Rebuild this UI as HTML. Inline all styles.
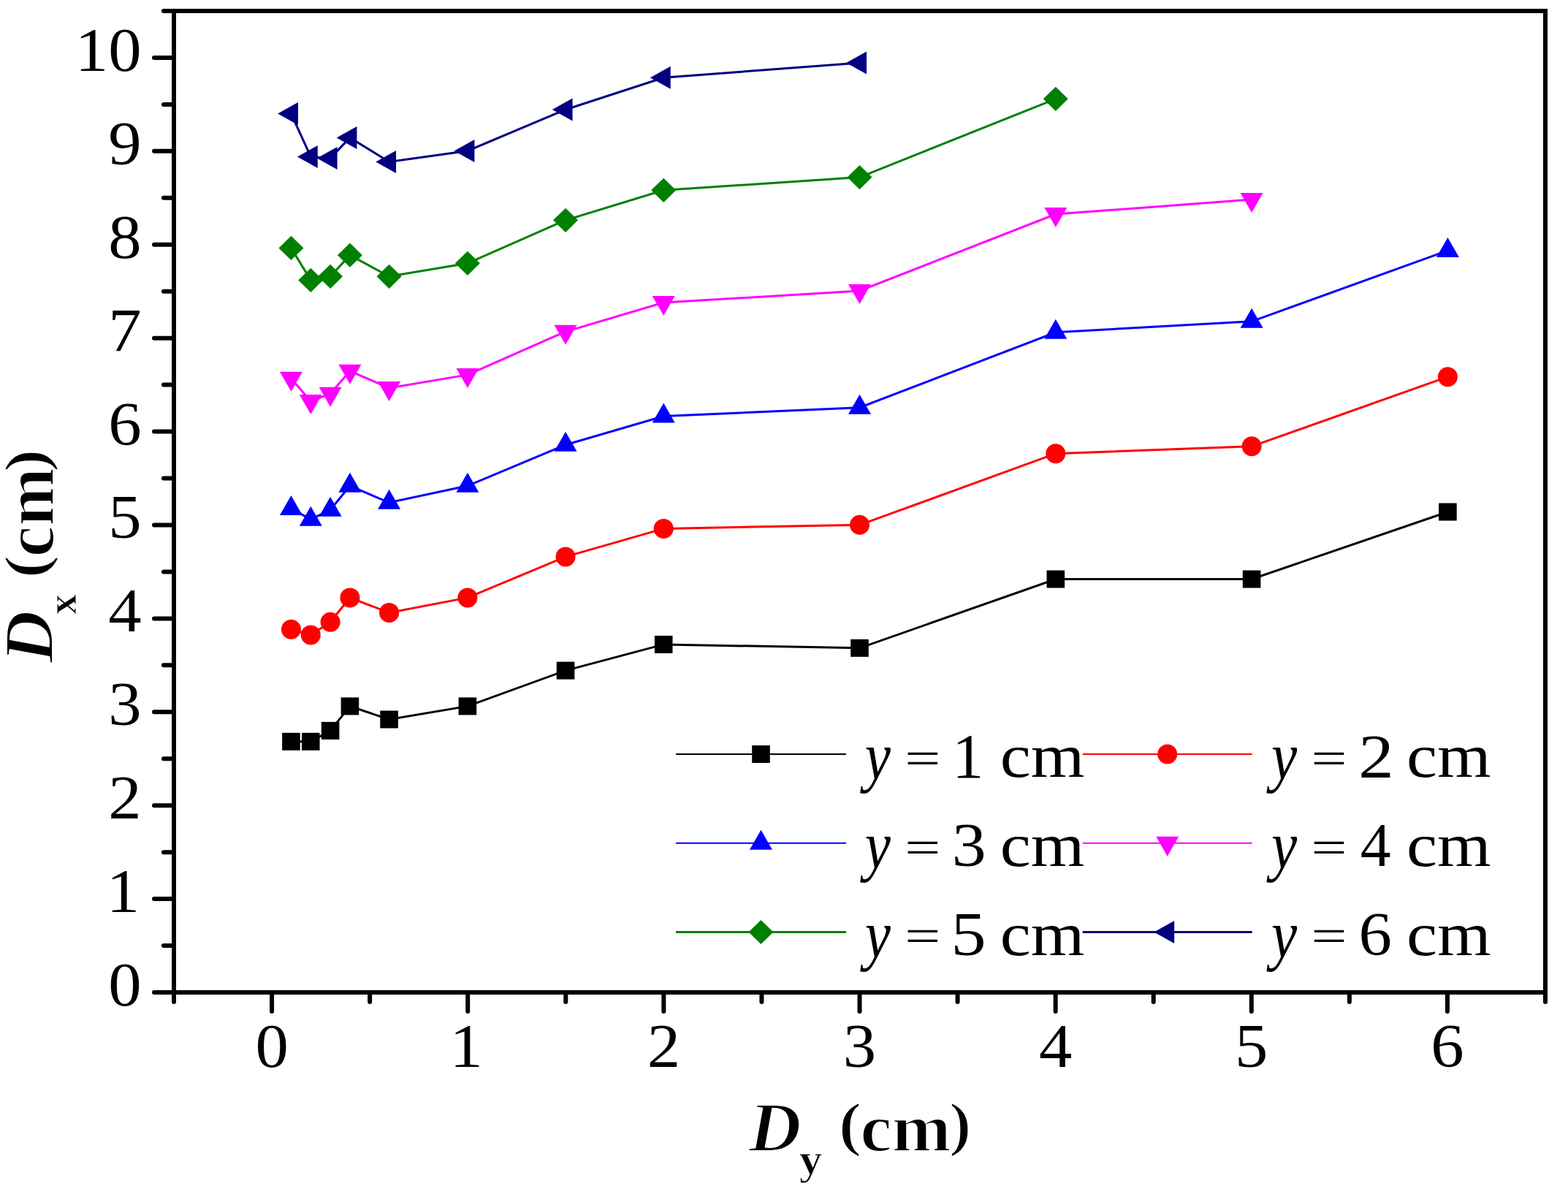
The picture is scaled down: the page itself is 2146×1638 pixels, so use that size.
<!DOCTYPE html>
<html><head><meta charset="utf-8"><title>Dx vs Dy</title>
<style>html,body{margin:0;padding:0;background:#fff;overflow:hidden}svg{display:block}</style>
</head><body>
<svg width="2146" height="1638" viewBox="0 0 2146 1638">
<rect width="2146" height="1638" fill="#fff"/>
<g font-family="'Liberation Serif', 'Times New Roman', serif" fill="#000">
<text transform="translate(193.50,1376.00) scale(1.0800,1)" text-anchor="end" font-size="84" font-style="normal" font-weight="normal">0</text>
<text transform="translate(191.00,1248.10) scale(1.0800,1)" text-anchor="end" font-size="84" font-style="normal" font-weight="normal">1</text>
<text transform="translate(193.50,1120.19) scale(1.0800,1)" text-anchor="end" font-size="84" font-style="normal" font-weight="normal">2</text>
<text transform="translate(193.50,992.29) scale(1.0800,1)" text-anchor="end" font-size="84" font-style="normal" font-weight="normal">3</text>
<text transform="translate(193.50,864.38) scale(1.0800,1)" text-anchor="end" font-size="84" font-style="normal" font-weight="normal">4</text>
<text transform="translate(193.50,736.48) scale(1.0800,1)" text-anchor="end" font-size="84" font-style="normal" font-weight="normal">5</text>
<text transform="translate(193.50,608.57) scale(1.0800,1)" text-anchor="end" font-size="84" font-style="normal" font-weight="normal">6</text>
<text transform="translate(193.50,480.67) scale(1.0800,1)" text-anchor="end" font-size="84" font-style="normal" font-weight="normal">7</text>
<text transform="translate(193.50,352.76) scale(1.0800,1)" text-anchor="end" font-size="84" font-style="normal" font-weight="normal">8</text>
<text transform="translate(193.50,224.86) scale(1.0800,1)" text-anchor="end" font-size="84" font-style="normal" font-weight="normal">9</text>
<text transform="translate(193.50,96.95) scale(1.0800,1)" text-anchor="end" font-size="84" font-style="normal" font-weight="normal">10</text>
<text transform="translate(372.07,1460.00) scale(1.0800,1)" text-anchor="middle" font-size="84" font-style="normal" font-weight="normal">0</text>
<text transform="translate(638.21,1460.00) scale(1.0800,1)" text-anchor="middle" font-size="84" font-style="normal" font-weight="normal">1</text>
<text transform="translate(908.36,1460.00) scale(1.0800,1)" text-anchor="middle" font-size="84" font-style="normal" font-weight="normal">2</text>
<text transform="translate(1176.50,1460.00) scale(1.0800,1)" text-anchor="middle" font-size="84" font-style="normal" font-weight="normal">3</text>
<text transform="translate(1444.64,1460.00) scale(1.0800,1)" text-anchor="middle" font-size="84" font-style="normal" font-weight="normal">4</text>
<text transform="translate(1712.79,1460.00) scale(1.0800,1)" text-anchor="middle" font-size="84" font-style="normal" font-weight="normal">5</text>
<text transform="translate(1980.93,1460.00) scale(1.0800,1)" text-anchor="middle" font-size="84" font-style="normal" font-weight="normal">6</text>
<text transform="translate(1024.89,1575.31) scale(1.0342,1)" font-size="95.74" font-style="italic" font-weight="bold" stroke="#fff" stroke-width="2.0">D</text>
<text transform="translate(1093.67,1606.23) scale(1.0760,1)" font-size="58.67" font-style="normal" font-weight="bold" stroke="#fff" stroke-width="1.0">y</text>
<text transform="translate(1147.49,1566.13) scale(1.1607,1)" font-size="82.47" font-style="normal" font-weight="bold" stroke="#fff" stroke-width="2.0">(</text>
<text transform="translate(1177.19,1574.67) scale(1.0514,1)" font-size="92.71" font-style="normal" font-weight="bold" stroke="#fff" stroke-width="2.0">cm</text>
<text transform="translate(1298.84,1566.13) scale(1.1229,1)" font-size="82.47" font-style="normal" font-weight="bold" stroke="#fff" stroke-width="2.0">)</text>
<g transform="rotate(-90)"><text transform="translate(-907.21,72.11) scale(1.0424,1)" font-size="94.98" font-style="italic" font-weight="bold" stroke="#fff" stroke-width="2.0">D</text><text transform="translate(-841.02,103.70) scale(0.9738,1)" font-size="57.52" font-style="normal" font-weight="bold" stroke="#fff" stroke-width="1.0">x</text><text transform="translate(-791.41,63.32) scale(1.1530,1)" font-size="83.02" font-style="normal" font-weight="bold" stroke="#fff" stroke-width="2.0">(</text><text transform="translate(-762.36,73.13) scale(0.9927,1)" font-size="96.46" font-style="normal" font-weight="bold" stroke="#fff" stroke-width="2.0">cm</text><text transform="translate(-646.16,63.32) scale(1.1530,1)" font-size="83.02" font-style="normal" font-weight="bold" stroke="#fff" stroke-width="2.0">)</text></g>
<line x1="925.0" y1="1032.0" x2="1158.0" y2="1032.0" stroke="#000000" stroke-width="2"/>
<rect x="1029.20" y="1020.00" width="24.6" height="24" fill="#000000"/>
<text transform="translate(1183.77,1066.37) scale(0.8532,1)" font-size="92.74" font-style="italic" font-weight="normal">y</text>
<text transform="translate(1238.26,1059.98) scale(1.3244,1)" font-size="65.60" font-style="normal" font-weight="normal">=</text>
<text transform="translate(1303.33,1063.60) scale(1.0020,1)" font-size="85.91" font-style="normal" font-weight="normal">1</text>
<text transform="translate(1368.80,1063.46) scale(1.1320,1)" font-size="83.58" font-style="normal" font-weight="normal">cm</text>
<line x1="1481.7" y1="1032.0" x2="1713.7" y2="1032.0" stroke="#FF0000" stroke-width="2"/>
<circle cx="1597.70" cy="1032.00" r="13.5" fill="#FF0000"/>
<text transform="translate(1739.97,1066.37) scale(0.8532,1)" font-size="92.74" font-style="italic" font-weight="normal">y</text>
<text transform="translate(1794.46,1059.98) scale(1.3244,1)" font-size="65.60" font-style="normal" font-weight="normal">=</text>
<text transform="translate(1859.14,1063.60) scale(1.1451,1)" font-size="84.50" font-style="normal" font-weight="normal">2</text>
<text transform="translate(1925.00,1063.46) scale(1.1320,1)" font-size="83.58" font-style="normal" font-weight="normal">cm</text>
<line x1="925.0" y1="1153.8" x2="1158.0" y2="1153.8" stroke="#0000FF" stroke-width="2"/>
<path d="M1041.50,1135.80L1057.00,1162.80L1026.00,1162.80Z" fill="#0000FF"/>
<text transform="translate(1183.77,1188.17) scale(0.8532,1)" font-size="92.74" font-style="italic" font-weight="normal">y</text>
<text transform="translate(1238.26,1181.78) scale(1.3244,1)" font-size="65.60" font-style="normal" font-weight="normal">=</text>
<text transform="translate(1302.69,1185.40) scale(1.1118,1)" font-size="84.50" font-style="normal" font-weight="normal">3</text>
<text transform="translate(1368.80,1185.26) scale(1.1320,1)" font-size="83.58" font-style="normal" font-weight="normal">cm</text>
<line x1="1481.7" y1="1153.8" x2="1713.7" y2="1153.8" stroke="#FF00FF" stroke-width="2"/>
<path d="M1597.70,1171.80L1613.20,1144.80L1582.20,1144.80Z" fill="#FF00FF"/>
<text transform="translate(1739.97,1188.17) scale(0.8532,1)" font-size="92.74" font-style="italic" font-weight="normal">y</text>
<text transform="translate(1794.46,1181.78) scale(1.3244,1)" font-size="65.60" font-style="normal" font-weight="normal">=</text>
<text transform="translate(1861.73,1185.40) scale(0.9896,1)" font-size="84.50" font-style="normal" font-weight="normal">4</text>
<text transform="translate(1925.00,1185.26) scale(1.1320,1)" font-size="83.58" font-style="normal" font-weight="normal">cm</text>
<line x1="925.0" y1="1275.5" x2="1158.0" y2="1275.5" stroke="#008000" stroke-width="3"/>
<path d="M1041.50,1258.90L1058.50,1275.50L1041.50,1292.10L1024.50,1275.50Z" fill="#008000"/>
<text transform="translate(1183.77,1309.87) scale(0.8532,1)" font-size="92.74" font-style="italic" font-weight="normal">y</text>
<text transform="translate(1238.26,1303.48) scale(1.3244,1)" font-size="65.60" font-style="normal" font-weight="normal">=</text>
<text transform="translate(1301.62,1307.10) scale(1.1394,1)" font-size="84.50" font-style="normal" font-weight="normal">5</text>
<text transform="translate(1368.80,1306.96) scale(1.1320,1)" font-size="83.58" font-style="normal" font-weight="normal">cm</text>
<line x1="1481.7" y1="1275.5" x2="1713.7" y2="1275.5" stroke="#000080" stroke-width="3"/>
<path d="M1579.40,1275.50L1607.20,1260.00L1607.20,1291.00Z" fill="#000080"/>
<text transform="translate(1739.97,1309.87) scale(0.8532,1)" font-size="92.74" font-style="italic" font-weight="normal">y</text>
<text transform="translate(1794.46,1303.48) scale(1.3244,1)" font-size="65.60" font-style="normal" font-weight="normal">=</text>
<text transform="translate(1859.49,1307.10) scale(1.0753,1)" font-size="84.50" font-style="normal" font-weight="normal">6</text>
<text transform="translate(1925.00,1306.96) scale(1.1320,1)" font-size="83.58" font-style="normal" font-weight="normal">cm</text>
</g>
<polyline points="398.43,1014.80 425.26,1014.80 452.09,999.90 478.92,966.40 532.58,984.50 639.90,966.40 774.05,917.60 908.20,881.90 1176.50,886.80 1444.80,792.50 1713.10,792.50 1981.40,700.50" fill="none" stroke="#000000" stroke-width="3" stroke-linejoin="miter"/>
<rect x="386.13" y="1002.80" width="24.6" height="24" fill="#000000"/>
<rect x="412.96" y="1002.80" width="24.6" height="24" fill="#000000"/>
<rect x="439.79" y="987.90" width="24.6" height="24" fill="#000000"/>
<rect x="466.62" y="954.40" width="24.6" height="24" fill="#000000"/>
<rect x="520.28" y="972.50" width="24.6" height="24" fill="#000000"/>
<rect x="627.60" y="954.40" width="24.6" height="24" fill="#000000"/>
<rect x="761.75" y="905.60" width="24.6" height="24" fill="#000000"/>
<rect x="895.90" y="869.90" width="24.6" height="24" fill="#000000"/>
<rect x="1164.20" y="874.80" width="24.6" height="24" fill="#000000"/>
<rect x="1432.50" y="780.50" width="24.6" height="24" fill="#000000"/>
<rect x="1700.80" y="780.50" width="24.6" height="24" fill="#000000"/>
<rect x="1969.10" y="688.50" width="24.6" height="24" fill="#000000"/>
<polyline points="398.43,861.30 425.26,868.90 452.09,851.30 478.92,817.90 532.58,838.40 639.90,817.90 774.05,761.90 908.20,723.40 1176.50,718.30 1444.80,620.70 1713.10,610.80 1981.40,515.70" fill="none" stroke="#FF0000" stroke-width="3" stroke-linejoin="miter"/>
<circle cx="398.43" cy="861.30" r="13.5" fill="#FF0000"/>
<circle cx="425.26" cy="868.90" r="13.5" fill="#FF0000"/>
<circle cx="452.09" cy="851.30" r="13.5" fill="#FF0000"/>
<circle cx="478.92" cy="817.90" r="13.5" fill="#FF0000"/>
<circle cx="532.58" cy="838.40" r="13.5" fill="#FF0000"/>
<circle cx="639.90" cy="817.90" r="13.5" fill="#FF0000"/>
<circle cx="774.05" cy="761.90" r="13.5" fill="#FF0000"/>
<circle cx="908.20" cy="723.40" r="13.5" fill="#FF0000"/>
<circle cx="1176.50" cy="718.30" r="13.5" fill="#FF0000"/>
<circle cx="1444.80" cy="620.70" r="13.5" fill="#FF0000"/>
<circle cx="1713.10" cy="610.80" r="13.5" fill="#FF0000"/>
<circle cx="1981.40" cy="515.70" r="13.5" fill="#FF0000"/>
<polyline points="398.43,695.90 425.26,710.80 452.09,697.70 478.92,664.80 532.58,687.80 639.90,664.80 774.05,608.70 908.20,569.60 1176.50,557.70 1444.80,454.80 1713.10,439.80 1981.40,342.90" fill="none" stroke="#0000FF" stroke-width="3" stroke-linejoin="miter"/>
<path d="M398.43,677.90L413.93,704.90L382.93,704.90Z" fill="#0000FF"/>
<path d="M425.26,692.80L440.76,719.80L409.76,719.80Z" fill="#0000FF"/>
<path d="M452.09,679.70L467.59,706.70L436.59,706.70Z" fill="#0000FF"/>
<path d="M478.92,646.80L494.42,673.80L463.42,673.80Z" fill="#0000FF"/>
<path d="M532.58,669.80L548.08,696.80L517.08,696.80Z" fill="#0000FF"/>
<path d="M639.90,646.80L655.40,673.80L624.40,673.80Z" fill="#0000FF"/>
<path d="M774.05,590.70L789.55,617.70L758.55,617.70Z" fill="#0000FF"/>
<path d="M908.20,551.60L923.70,578.60L892.70,578.60Z" fill="#0000FF"/>
<path d="M1176.50,539.70L1192.00,566.70L1161.00,566.70Z" fill="#0000FF"/>
<path d="M1444.80,436.80L1460.30,463.80L1429.30,463.80Z" fill="#0000FF"/>
<path d="M1713.10,421.80L1728.60,448.80L1697.60,448.80Z" fill="#0000FF"/>
<path d="M1981.40,324.90L1996.90,351.90L1965.90,351.90Z" fill="#0000FF"/>
<polyline points="398.43,517.80 425.26,549.00 452.09,538.80 478.92,507.80 532.58,530.90 639.90,512.90 774.05,453.80 908.20,414.10 1176.50,398.00 1444.80,293.10 1713.10,272.90" fill="none" stroke="#FF00FF" stroke-width="3" stroke-linejoin="miter"/>
<path d="M398.43,535.80L413.93,508.80L382.93,508.80Z" fill="#FF00FF"/>
<path d="M425.26,567.00L440.76,540.00L409.76,540.00Z" fill="#FF00FF"/>
<path d="M452.09,556.80L467.59,529.80L436.59,529.80Z" fill="#FF00FF"/>
<path d="M478.92,525.80L494.42,498.80L463.42,498.80Z" fill="#FF00FF"/>
<path d="M532.58,548.90L548.08,521.90L517.08,521.90Z" fill="#FF00FF"/>
<path d="M639.90,530.90L655.40,503.90L624.40,503.90Z" fill="#FF00FF"/>
<path d="M774.05,471.80L789.55,444.80L758.55,444.80Z" fill="#FF00FF"/>
<path d="M908.20,432.10L923.70,405.10L892.70,405.10Z" fill="#FF00FF"/>
<path d="M1176.50,416.00L1192.00,389.00L1161.00,389.00Z" fill="#FF00FF"/>
<path d="M1444.80,311.10L1460.30,284.10L1429.30,284.10Z" fill="#FF00FF"/>
<path d="M1713.10,290.90L1728.60,263.90L1697.60,263.90Z" fill="#FF00FF"/>
<polyline points="398.43,339.40 425.26,383.40 452.09,378.30 478.92,349.20 532.58,378.30 639.90,360.30 774.05,301.30 908.20,260.30 1176.50,242.60 1444.80,135.30" fill="none" stroke="#008000" stroke-width="3" stroke-linejoin="miter"/>
<path d="M398.43,322.80L415.43,339.40L398.43,356.00L381.43,339.40Z" fill="#008000"/>
<path d="M425.26,366.80L442.26,383.40L425.26,400.00L408.26,383.40Z" fill="#008000"/>
<path d="M452.09,361.70L469.09,378.30L452.09,394.90L435.09,378.30Z" fill="#008000"/>
<path d="M478.92,332.60L495.92,349.20L478.92,365.80L461.92,349.20Z" fill="#008000"/>
<path d="M532.58,361.70L549.58,378.30L532.58,394.90L515.58,378.30Z" fill="#008000"/>
<path d="M639.90,343.70L656.90,360.30L639.90,376.90L622.90,360.30Z" fill="#008000"/>
<path d="M774.05,284.70L791.05,301.30L774.05,317.90L757.05,301.30Z" fill="#008000"/>
<path d="M908.20,243.70L925.20,260.30L908.20,276.90L891.20,260.30Z" fill="#008000"/>
<path d="M1176.50,226.00L1193.50,242.60L1176.50,259.20L1159.50,242.60Z" fill="#008000"/>
<path d="M1444.80,118.70L1461.80,135.30L1444.80,151.90L1427.80,135.30Z" fill="#008000"/>
<polyline points="398.43,155.60 425.26,214.40 452.09,216.40 478.92,188.40 532.58,221.50 639.90,206.50 774.05,150.00 908.20,106.20 1176.50,86.00" fill="none" stroke="#000080" stroke-width="3" stroke-linejoin="miter"/>
<path d="M380.13,155.60L407.93,140.10L407.93,171.10Z" fill="#000080"/>
<path d="M406.96,214.40L434.76,198.90L434.76,229.90Z" fill="#000080"/>
<path d="M433.79,216.40L461.59,200.90L461.59,231.90Z" fill="#000080"/>
<path d="M460.62,188.40L488.42,172.90L488.42,203.90Z" fill="#000080"/>
<path d="M514.28,221.50L542.08,206.00L542.08,237.00Z" fill="#000080"/>
<path d="M621.60,206.50L649.40,191.00L649.40,222.00Z" fill="#000080"/>
<path d="M755.75,150.00L783.55,134.50L783.55,165.50Z" fill="#000080"/>
<path d="M889.90,106.20L917.70,90.70L917.70,121.70Z" fill="#000080"/>
<path d="M1158.20,86.00L1186.00,70.50L1186.00,101.50Z" fill="#000080"/>
<rect x="238" y="15" width="1877" height="1343" fill="none" stroke="#000" stroke-width="6" stroke-linejoin="miter"/>
<path d="M238,1358.00H211M238,1230.10H211M238,1102.19H211M238,974.29H211M238,846.38H211M238,718.48H211M238,590.57H211M238,462.67H211M238,334.76H211M238,206.86H211M238,78.95H211M238,1294.05H224M238,1166.14H224M238,1038.24H224M238,910.33H224M238,782.43H224M238,654.52H224M238,526.62H224M238,398.71H224M238,270.81H224M238,142.90H224M238,15.00H224M372.07,1358V1384M640.21,1358V1384M908.36,1358V1384M1176.50,1358V1384M1444.64,1358V1384M1712.79,1358V1384M1980.93,1358V1384M238.00,1358V1371M506.14,1358V1371M774.29,1358V1371M1042.43,1358V1371M1310.57,1358V1371M1578.71,1358V1371M1846.86,1358V1371M2115.00,1358V1371" stroke="#000" stroke-width="6" stroke-linecap="round" fill="none"/>
</svg>
</body></html>
